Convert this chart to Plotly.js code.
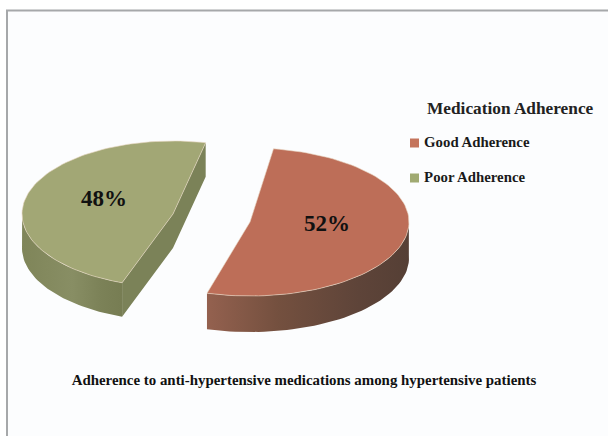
<!DOCTYPE html>
<html>
<head>
<meta charset="utf-8">
<script src="https://cdn.plot.ly/plotly-3.0.0.min.js"></script>
<style>html,body{margin:0;padding:0;background:#fff}</style>
</head>
<body>
<div id="chart" style="width:608px;height:436px"></div>
<script>
// Data
const categories = ["Good Adherence", "Poor Adherence"];
const values = [52, 48];
const legendTitle = "Medication Adherence";
const chartTitle = "Adherence to anti-hypertensive medications among hypertensive patients";

// Styles
const topColors = ["#bd6e58", "#a2a775"];
const swatchColors = ["#c4745c", "#a0aa72"];
const sideGradients = [
  [[0, "#94614f"], [0.35, "#74503f"], [0.75, "#5e4439"], [1, "#553f35"]],
  [[0, "#7f8559"], [0.5, "#888e64"], [0.8, "#7b8157"], [1, "#777d53"]]
];
const cutWallColor = "#7b8258";
const serif = "Liberation Serif, serif";

// Projection of each slice (a tilted 3D pie): centre, radii, depth, start angle, sweep direction
const pies = [
  {cx: 250, cy: 222, a: 159, b: 74, depth: 36, start: 8.5, dir: 1, cutWall: false, label: [327, 225]},
  {cx: 173, cy: 214, a: 151, b: 73, depth: 34, start: 12.5, dir: -1, cutWall: true, label: [104, 200]}
];
const legendPos = {markerX: 414.5, ys: [143, 178]};
const total = values.reduce((s, v) => s + v, 0);

function rim(p, t, dy) {
  const r = t * Math.PI / 180;
  return [p.cx + p.a * Math.sin(r), p.cy - p.b * Math.cos(r) + (dy || 0)];
}

function sliceAngles(p, value) {
  const sweep = value / total * 360 * p.dir;
  const out = [];
  for (let i = 0; i <= 90; i++) out.push(p.start + sweep * i / 90);
  return out;
}

const traces = [];
const frame = {
  type: "rect", xref: "x", yref: "y", x0: 7, y0: 10.5, x1: 620, y1: 450,
  fillcolor: "#fcfdfe", line: {color: "#a6a8aa", width: 2}, layer: "below"
};

values.forEach((v, i) => {
  const p = pies[i];
  const ts = sliceAngles(p, v);
  const first = rim(p, ts[0], 0);
  const last = rim(p, ts[ts.length - 1], 0);

  // wall along the straight cut of the slice
  if (p.cutWall) {
    traces.push({
      type: "scatter", mode: "lines",
      x: [last[0], last[0], p.cx, first[0], first[0], p.cx, last[0]],
      y: [last[1], last[1] + p.depth, p.cy + p.depth, first[1] + p.depth, first[1], p.cy, last[1]],
      fill: "toself", fillcolor: cutWallColor, line: {width: 0},
      hoverinfo: "skip", showlegend: false
    });
  }

  // wall along the outer rim, visible below the top face
  const front = ts.filter(t => Math.cos(t * Math.PI / 180) <= 0.05);
  const sx = [], sy = [];
  front.forEach(t => { const q = rim(p, t, 0); sx.push(q[0]); sy.push(q[1]); });
  front.slice().reverse().forEach(t => { const q = rim(p, t, p.depth); sx.push(q[0]); sy.push(q[1]); });
  sx.push(sx[0]); sy.push(sy[0]);
  traces.push({
    type: "scatter", mode: "lines", x: sx, y: sy, fill: "toself",
    fillcolor: sideGradients[i][1][1],
    fillgradient: {type: "horizontal", colorscale: sideGradients[i]},
    line: {width: 0}, hoverinfo: "skip", showlegend: false
  });

  // top face
  const tx = [p.cx], ty = [p.cy];
  ts.forEach(t => { const q = rim(p, t, 0); tx.push(q[0]); ty.push(q[1]); });
  tx.push(p.cx); ty.push(p.cy);
  traces.push({
    type: "scatter", mode: "lines", x: tx, y: ty, fill: "toself",
    fillcolor: topColors[i], line: {width: 0.6, color: "#e9d9c4"},
    hoverinfo: "skip", showlegend: false
  });

  // percent label
  traces.push({
    type: "scatter", mode: "text", x: [p.label[0]], y: [p.label[1]],
    text: ["<b>" + Math.round(v / total * 100) + "%</b>"], textposition: "middle center",
    textfont: {family: serif, size: 23, color: "#111"},
    hoverinfo: "skip", showlegend: false
  });
});

// legend entries
categories.forEach((c, i) => {
  traces.push({
    type: "scatter", mode: "markers+text", name: c,
    x: [legendPos.markerX], y: [legendPos.ys[i]],
    text: ["<b>\u2009" + c + "</b>"], textposition: "middle right",
    textfont: {family: serif, size: 14.8, color: "#1a1a1a"},
    marker: {symbol: "square", size: 9, color: swatchColors[i]},
    hoverinfo: "skip", showlegend: false
  });
});

const layout = {
  width: 608, height: 436,
  margin: {l: 0, r: 0, t: 0, b: 0},
  paper_bgcolor: "#ffffff",
  plot_bgcolor: "rgba(0,0,0,0)",
  xaxis: {range: [0, 608], visible: false, fixedrange: true},
  yaxis: {range: [436, 0], visible: false, fixedrange: true},
  shapes: [frame],
  title: {
    text: "<b>" + chartTitle + "</b>",
    x: 304 / 608, xanchor: "center", xref: "paper",
    y: 1 - 380 / 436, yanchor: "middle", yref: "paper",
    font: {family: serif, size: 14.9, color: "#111"}
  },
  annotations: [{
    text: "<b>" + legendTitle + "</b>", xref: "x", yref: "y",
    x: 510, y: 108, showarrow: false, xanchor: "center", yanchor: "middle",
    font: {family: serif, size: 17.3, color: "#222"}
  }],
  showlegend: false
};

Plotly.newPlot("chart", traces, layout, {displayModeBar: false, responsive: false});
</script>
</body>
</html>
